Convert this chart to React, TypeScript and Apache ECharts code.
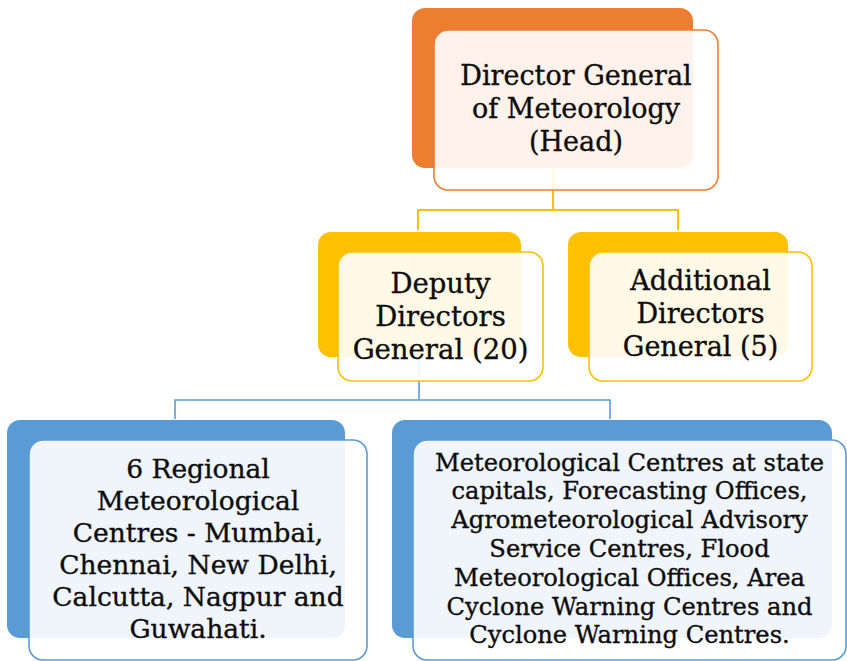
import React, { useEffect, useRef } from "react";
import * as echarts from "echarts";

// ---- content ----
const headLines = ["Director General", "of Meteorology", "(Head)"];
const deputyLines = ["Deputy", "Directors", "General (20)"];
const additionalLines = ["Additional", "Directors", "General (5)"];
const regionalLines = [
  "6 Regional",
  "Meteorological",
  "Centres - Mumbai,",
  "Chennai, New Delhi,",
  "Calcutta, Nagpur and",
  "Guwahati.",
];
const centresLines = [
  "Meteorological Centres at state",
  "capitals, Forecasting Offices,",
  "Agrometeorological Advisory",
  "Service Centres, Flood",
  "Meteorological Offices, Area",
  "Cyclone Warning Centres and",
  "Cyclone Warning Centres.",
];

// ---- styles ----
const ORANGE = "#ED7D31";
const GOLD = "#FFC000";
const BLUE = "#5B9BD5";
const FONT = "'DejaVu Serif', serif";

type Box = [number, number, number, number];
interface NodeLayout {
  lines: string[];
  color: string;
  back: Box;
  front: Box;
  textY: number;
  fontSize: number;
  lineHeight: number;
}

const layout: NodeLayout[] = [
  { lines: headLines, color: ORANGE, back: [412, 8, 281, 160], front: [434, 30, 284, 160], textY: 108, fontSize: 27, lineHeight: 33 },
  { lines: deputyLines, color: GOLD, back: [318, 232, 203, 125], front: [338, 252, 205, 129], textY: 316, fontSize: 27.5, lineHeight: 33 },
  { lines: additionalLines, color: GOLD, back: [568, 232, 220, 125], front: [589, 252, 223, 129], textY: 313, fontSize: 27, lineHeight: 33 },
  { lines: regionalLines, color: BLUE, back: [7, 420, 338, 218], front: [29, 440, 338, 220], textY: 548, fontSize: 26.5, lineHeight: 32 },
  { lines: centresLines, color: BLUE, back: [392, 420, 440, 218], front: [413, 440, 433, 220], textY: 549, fontSize: 24.2, lineHeight: 28.8 },
];

const connectors: { points: number[][]; color: string; width: number }[] = [
  { points: [[553, 168], [553, 210]], color: GOLD, width: 2 },
  { points: [[418, 230], [418, 210], [678, 210], [678, 230]], color: GOLD, width: 2 },
  { points: [[419, 357], [419, 400]], color: BLUE, width: 1.6 },
  { points: [[175, 419], [175, 400], [610, 400], [610, 419]], color: BLUE, width: 1.6 },
];

export default function App() {
  const ref = useRef<HTMLDivElement>(null);
  useEffect(() => {
    document.body.style.margin = "0";
    const chart = echarts.init(ref.current!, undefined, { renderer: "svg" });
    const elements: any[] = [];
    connectors.forEach((c) => {
      elements.push({
        type: "polyline",
        shape: { points: c.points },
        style: { stroke: c.color, lineWidth: c.width, fill: null },
        z: 1,
      });
    });
    layout.forEach((n) => {
      elements.push({
        type: "rect",
        shape: { x: n.back[0], y: n.back[1], width: n.back[2], height: n.back[3], r: 13 },
        style: { fill: n.color },
        z: 2,
      });
      elements.push({
        type: "rect",
        shape: { x: n.front[0], y: n.front[1], width: n.front[2], height: n.front[3], r: 14 },
        style: { fill: "rgba(255,255,255,0.9)", stroke: n.color, lineWidth: 1.6 },
        z: 3,
      });
      elements.push({
        type: "text",
        x: n.front[0] + n.front[2] / 2,
        y: n.textY,
        style: {
          text: n.lines.join("\n"),
          font: `${n.fontSize}px ${FONT}`,
          lineHeight: n.lineHeight,
          align: "center",
          verticalAlign: "middle",
          fill: "#0d0d0d",
          stroke: "#0d0d0d",
          lineWidth: 0.35,
        },
        z: 4,
      });
    });
    chart.setOption({
      animation: false,
      backgroundColor: "#ffffff",
      graphic: { elements },
    });
    return () => chart.dispose();
  }, []);
  return <div ref={ref} style={{ width: 847, height: 661 }} />;
}
